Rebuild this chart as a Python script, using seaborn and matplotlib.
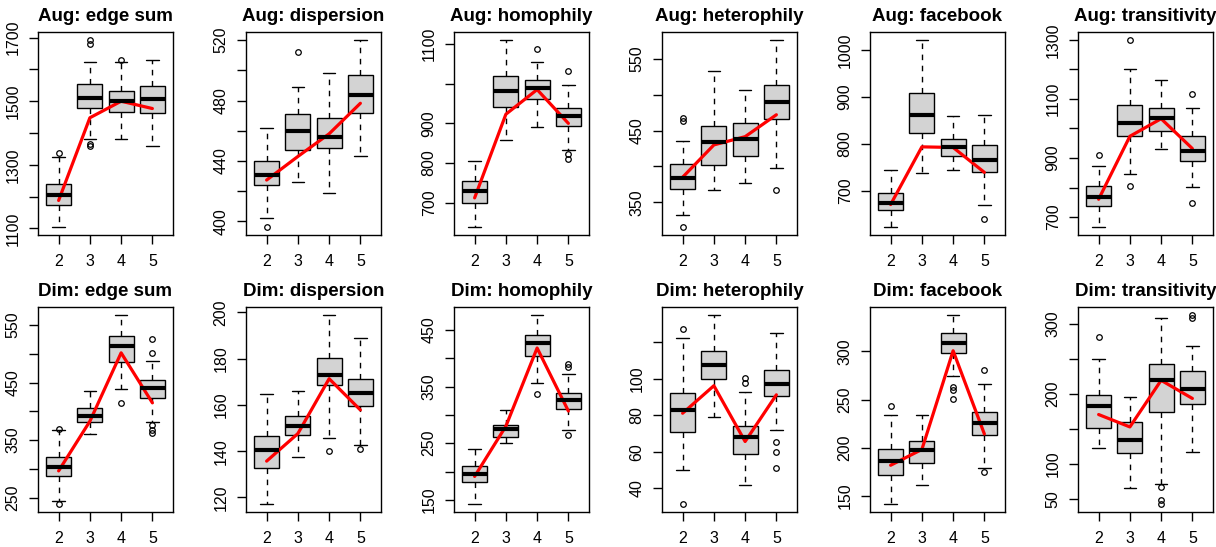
import matplotlib
matplotlib.use("Agg")
import numpy as np
import matplotlib.pyplot as plt
import seaborn as sns

# panel titles, left to right, top row then bottom row
titles = ['Aug: edge sum', 'Aug: dispersion', 'Aug: homophily', 'Aug: heterophily',
          'Aug: facebook', 'Aug: transitivity',
          'Dim: edge sum', 'Dim: dispersion', 'Dim: homophily', 'Dim: heterophily',
          'Dim: facebook', 'Dim: transitivity']
groups = ['2', '3', '4', '5']

# box statistics, one row per panel, one value per group
whislo = [[1103, 1380, 1380, 1358], [402, 426, 419, 443], [638, 857, 892, 832],
          [333, 367, 377, 398], [622, 738, 745, 670], [665, 846, 931, 802],
          [245, 360, 439, 381], [117, 137.5, 145.5, 142.5], [142, 251, 356, 274],
          [50, 79, 42, 72], [141, 161, 274, 179], [122, 66, 71, 117]]
q1 = [[1175, 1479, 1467, 1464], [424, 447.5, 448.6, 472], [699, 941, 962, 892.5],
      [368.5, 402, 414.7, 466], [659, 823, 774.5, 739.6], [738, 973.6, 991.6, 890.6],
      [287, 382, 486.5, 424], [132.8, 146.9, 168.7, 159.3], [182, 261.8, 403.8, 310],
      [71.1, 99.8, 59.1, 90.6], [171.3, 183.8, 298.6, 212.8], [151.3, 115.3, 174.3, 185.8]]
median = [[1206, 1510, 1502, 1507], [431, 459.6, 455.8, 483.9], [731, 981, 988, 917.5],
          [384.6, 434, 438, 490.4], [675, 863, 793.4, 765], [768, 1018.5, 1035, 925.4],
          [304, 391.5, 512.7, 441], [140.4, 151, 173, 165], [196, 274.3, 427, 326],
          [82.9, 107.5, 68, 97.4], [185.6, 197.1, 309, 225.3], [182, 134.5, 220.3, 206.4]]
q3 = [[1239, 1554, 1531, 1547], [440.3, 470.9, 468.3, 497.2], [754, 1020, 1009, 937.5],
      [403, 456.7, 460, 513], [696.5, 909.5, 810.6, 798.4], [806.5, 1081, 1069, 974.8],
      [320, 406, 530.7, 454.4], [146.6, 155, 180.4, 171.2], [209.8, 282, 441.7, 338],
      [92.2, 115.2, 74, 105.1], [198.8, 206.9, 319.5, 236.8], [197.7, 159.4, 242.3, 232.7]]
whishi = [[1325, 1622, 1622, 1630], [461.7, 488.7, 498.5, 520.4], [805, 1111, 1054, 996],
          [435, 533, 506, 576.8], [744.6, 1023, 860.7, 861.4], [873.8, 1202, 1163, 1067.8],
          [367, 434.6, 568, 487.6], [164.5, 165.8, 199, 188.7], [240, 308, 477, 372.5],
          [122.4, 135.3, 93.1, 125.3], [233.7, 233.7, 338.3, 266.5], [250, 195.8, 308.4, 268.2]]
fliers = [[[1337], [1694, 1680, 1367, 1358], [1630], []],
          [[396], [512.3], [], []],
          [[], [], [1088], [1032, 822, 811]],
          [[468, 462.7, 315], [], [], [367]],
          [[], [], [], [640.6]],
          [[908.6], [1301, 806.5], [], [1115, 749]],
          [[369.4, 238.4], [], [413.7], [525.5, 501, 375.8, 367.6, 361.8]],
          [[], [], [140], [141]],
          [[], [], [336.4], [389, 383.7, 264]],
          [[127.4, 31.2], [], [100.5, 97.9], [65.2, 60.2, 51.4]],
          [[243.5], [], [263, 260.2, 250.8], [281.1, 175.1]],
          [[280.6], [], [67, 47.8, 42], [313.2, 308]]]
# red line (group means)
means = [[1188, 1448, 1500, 1477], [427.4, 443, 458, 478.2], [712.5, 923, 985, 900],
         [385, 430, 441.5, 472], [671, 794, 792.7, 739.6], [760.5, 973.6, 1033, 932],
         [296.6, 382.8, 501.6, 414.8], [135.7, 147.6, 171.3, 157.8], [191.4, 280, 418, 306.8],
         [81.2, 96.3, 65.7, 91.3], [181.7, 198.1, 300.7, 214.2], [170.4, 152.7, 219.3, 193.4]]

# y ticks and the labels R kept
yticks = [[1100, 1200, 1300, 1400, 1500, 1600, 1700], [400, 420, 440, 460, 480, 500, 520],
          [700, 800, 900, 1000, 1100], [350, 400, 450, 500, 550], [700, 800, 900, 1000],
          [700, 800, 900, 1000, 1100, 1200, 1300],
          [250, 300, 350, 400, 450, 500, 550], [120, 140, 160, 180, 200],
          [150, 200, 250, 300, 350, 400, 450], [40, 60, 80, 100, 120],
          [150, 200, 250, 300], [50, 100, 150, 200, 250, 300]]
ytick_labels = [['1100', '', '1300', '', '1500', '', '1700'],
                ['400', '', '440', '', '480', '', '520'],
                ['700', '800', '900', '', '1100'],
                ['350', '', '450', '', '550'],
                ['700', '800', '900', '1000'],
                ['700', '', '900', '', '1100', '', '1300'],
                ['250', '', '350', '', '450', '', '550'],
                ['120', '140', '160', '180', '200'],
                ['150', '', '250', '', '350', '', '450'],
                ['40', '60', '80', '100', ''],
                ['150', '200', '250', '300'],
                ['50', '100', '', '200', '', '300']]

sns.set_theme(style="ticks")
plt.rcParams['font.family'] = ['Liberation Sans', 'DejaVu Sans']
plt.rcParams['text.color'] = 'black'

W, H = 1216, 547
fig = plt.figure(figsize=(W / 100, H / 100), dpi=100)
rows = [(32, 235), (307, 512)]
pos = np.arange(1, len(groups) + 1)

for i, title in enumerate(titles):
    r, c = divmod(i, 6)
    top, bot = rows[r]
    left = 38 + 208 * c
    ax = fig.add_axes([left / W, 1 - bot / H, 135 / W, (bot - top) / H])

    stats = []
    for g in range(len(groups)):
        stats.append(dict(whislo=whislo[i][g], q1=q1[i][g], med=median[i][g],
                          q3=q3[i][g], whishi=whishi[i][g], fliers=fliers[i][g]))
    ax.bxp(stats, positions=pos, widths=0.8, capwidths=0.4, patch_artist=True,
           boxprops=dict(facecolor='#D3D3D3', edgecolor='black', linewidth=1.0),
           whiskerprops=dict(color='black', linewidth=1.0, linestyle=(0, (4, 4))),
           capprops=dict(color='black', linewidth=1.0),
           medianprops=dict(color='black', linewidth=3.0, solid_capstyle='butt'),
           flierprops=dict(marker='o', markersize=4, markerfacecolor='none',
                           markeredgecolor='black', markeredgewidth=0.9))
    sns.lineplot(x=pos, y=means[i], color='red', linewidth=2.3, ax=ax)

    # R style limits: all points plus 4 percent
    allv = whislo[i] + whishi[i] + [v for f in fliers[i] for v in f]
    lo, hi = min(allv), max(allv)
    pad = 0.04 * (hi - lo)
    ax.set_ylim(lo - pad, hi + pad)
    ax.set_xlim(0.34, 4.66)

    ax.set_xticks(pos, groups)
    ax.set_yticks(yticks[i], ytick_labels[i])
    ax.tick_params(axis='both', direction='out', length=6.5, width=1.0,
                   color='black', labelsize=11.5, labelcolor='black')
    ax.tick_params(axis='x', pad=7)
    ax.tick_params(axis='y', pad=6)
    for lbl in ax.get_yticklabels():
        lbl.set_rotation(90)
        lbl.set_va('center')
    for sp in ax.spines.values():
        sp.set_color('black')
        sp.set_linewidth(1.0)
    ax.set_xlabel('')
    ax.set_ylabel('')
    ax.set_title(title, fontsize=13.5, fontweight='bold', pad=8, color='black')

fig.savefig('out.png', dpi=100)
